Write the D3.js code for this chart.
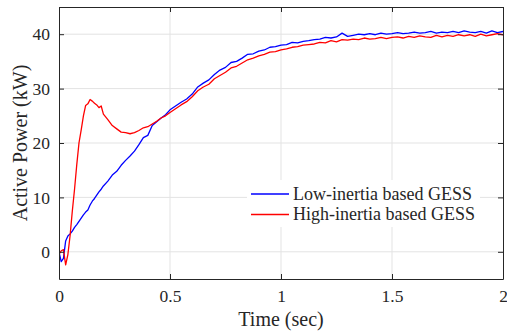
<!DOCTYPE html>
<html>
<head>
<meta charset="utf-8">
<script src="https://cdn.jsdelivr.net/npm/d3@7"></script>
<style>
  body { margin: 0; background: #fff; }
  text { font-family: "Liberation Serif", "Times New Roman", serif; fill: #262626; }
</style>
</head>
<body>
<div class="graphContainer"></div>
<script>
// time stamps (sec), finer during the first transient
var time = [0, 0.01, 0.02, 0.03, 0.04, 0.05, 0.06, 0.07, 0.08, 0.09, 0.10,
  0.11, 0.12, 0.13, 0.14, 0.15, 0.16, 0.17, 0.18, 0.19, 0.20,
  0.22, 0.24, 0.26, 0.28, 0.30, 0.32, 0.34, 0.36, 0.38, 0.40,
  0.42, 0.44, 0.46, 0.48, 0.50,
  0.525, 0.55, 0.575, 0.6, 0.625, 0.65, 0.675, 0.7, 0.725, 0.75,
  0.775, 0.8, 0.825, 0.85, 0.875, 0.9, 0.925, 0.95, 0.975, 1.0,
  1.025, 1.05, 1.075, 1.1, 1.125, 1.15, 1.175, 1.2, 1.225, 1.25,
  1.275, 1.3, 1.325, 1.35, 1.375, 1.4, 1.425, 1.45, 1.475, 1.5,
  1.525, 1.55, 1.575, 1.6, 1.625, 1.65, 1.675, 1.7, 1.725, 1.75,
  1.775, 1.8, 1.825, 1.85, 1.875, 1.9, 1.925, 1.95, 1.975, 2.0];

// active power (kW)
var lowInertia = [0, -1.8, -1.2, 2.0, 2.9, 3.3, 3.8, 4.5, 5.0, 5.6, 6.2,
  6.8, 7.3, 7.7, 8.6, 9.3, 9.8, 10.4, 11.0, 11.5, 12.1,
  13.0, 14.1, 14.8, 15.9, 16.8, 17.6, 18.5, 19.7, 21.0, 21.4,
  23.2, 23.9, 24.6, 25.2, 26.1,
  26.8, 27.5, 28.1, 29.0, 30.3, 31.0, 31.6, 32.6, 33.4, 33.9,
  34.8, 35.0, 35.6, 36.3, 36.4, 36.9, 37.1, 37.6, 37.7, 38.0,
  38.1, 38.5, 38.4, 38.7, 38.8, 39.0, 39.1, 39.4, 39.3, 39.5,
  40.2, 39.6, 39.8, 40.0, 39.9, 40.1, 39.9, 40.2, 40.0, 40.1,
  40.3, 40.1, 40.2, 40.4, 40.2, 40.3, 40.5, 40.2, 40.4, 40.3,
  40.5, 40.3, 40.6, 40.4, 40.3, 40.5, 40.2, 40.6, 40.3, 40.5];

var highInertia = [-0.5, 0.2, 0.4, -2.4, -0.5, 3.0, 7.5, 11.5, 16.0, 20.0, 22.4,
  25.0, 26.9, 27.2, 28.0, 27.7, 27.3, 27.0, 26.5, 26.8, 25.3,
  24.3, 23.2, 22.6, 22.0, 21.9, 21.7, 21.9, 22.3, 22.8, 23.0,
  23.5, 24.0, 24.6, 25.0, 25.6,
  26.3, 27.0, 27.6, 28.5, 29.6, 30.3, 30.8, 31.8, 32.4, 33.0,
  33.8, 34.1, 34.7, 35.3, 35.6, 36.0, 36.3, 36.7, 36.8, 37.1,
  37.3, 37.6, 37.7, 38.0, 38.1, 38.2, 38.5, 38.4, 38.8, 38.6,
  39.0, 38.9, 39.1, 39.0, 39.3, 39.1, 39.2, 39.4, 39.2, 39.4,
  39.5, 39.3, 39.6, 39.4, 39.7, 39.5, 39.4, 39.8, 39.5, 39.8,
  39.6, 39.9, 39.7, 39.9, 39.6, 40.0, 39.7, 39.9, 40.1, 39.9];

var xTicks = [0, 0.5, 1, 1.5, 2];
var yTicks = [0, 10, 20, 30, 40];
var seriesNames = ["Low-inertia based GESS", "High-inertia based GESS"];
var seriesColors = ["#0000ff", "#ff0000"];

var w = 507, h = 336;
var m = {left: 59, right: 4, top: 7, bottom: 57};
var iw = w - m.left - m.right,
    ih = h - m.top - m.bottom;

var x = d3.scaleLinear().domain([0, 2]).range([0, iw]);
var y = d3.scaleLinear().domain([-5, 45]).range([ih, 0]);

var svg = d3.select(".graphContainer")
  .append("svg")
  .attr("width", w)
  .attr("height", h);

var g = svg.append("g")
  .attr("transform", "translate(" + m.left + "," + m.top + ")");

// grid
g.append("g")
  .selectAll("line")
  .data(xTicks.slice(1, -1))
  .enter().append("line")
    .attr("x1", function (d) { return x(d); })
    .attr("x2", function (d) { return x(d); })
    .attr("y1", 0).attr("y2", ih)
    .attr("stroke", "#e3e3e3").attr("stroke-width", 1);

g.append("g")
  .selectAll("line")
  .data(yTicks)
  .enter().append("line")
    .attr("y1", function (d) { return y(d); })
    .attr("y2", function (d) { return y(d); })
    .attr("x1", 0).attr("x2", iw)
    .attr("stroke", "#e3e3e3").attr("stroke-width", 1);

// curves
var series = [lowInertia, highInertia];
var line = d3.line()
  .x(function (d, i) { return x(time[i]); })
  .y(function (d) { return y(d); });

g.append("defs").append("clipPath").attr("id", "clip")
  .append("rect").attr("width", iw).attr("height", ih);

g.append("g")
  .attr("clip-path", "url(#clip)")
  .selectAll("path")
  .data(series)
  .enter().append("path")
    .attr("d", line)
    .attr("fill", "none")
    .attr("stroke", function (d, i) { return seriesColors[i]; })
    .attr("stroke-width", 1.3)
    .attr("stroke-linejoin", "round");

// axes with inward ticks, box on all sides
var axisBottom = d3.axisBottom(x).tickValues(xTicks).tickSizeInner(-5).tickSizeOuter(0).tickPadding(11)
  .tickFormat(d3.format("~g"));
var axisLeft = d3.axisLeft(y).tickValues(yTicks).tickSizeInner(-5).tickSizeOuter(0).tickPadding(9);
var axisTop = d3.axisTop(x).tickValues(xTicks).tickSizeInner(-5).tickSizeOuter(0).tickFormat("");
var axisRight = d3.axisRight(y).tickValues(yTicks).tickSizeInner(-5).tickSizeOuter(0).tickFormat("");

var gx = g.append("g").attr("transform", "translate(0," + ih + ")").call(axisBottom);
var gy = g.append("g").call(axisLeft);
var gt = g.append("g").call(axisTop);
var gr = g.append("g").attr("transform", "translate(" + iw + ",0)").call(axisRight);

[gx, gy, gt, gr].forEach(function (a) {
  a.select(".domain").attr("stroke", "#262626").attr("stroke-width", 1);
  a.selectAll(".tick line").attr("stroke", "#262626");
  a.selectAll("text")
    .style("font-family", "'Liberation Serif', serif")
    .style("font-size", "17.5px")
    .attr("fill", "#262626");
});

// axis labels
svg.append("text")
  .attr("x", m.left + iw / 2)
  .attr("y", 326)
  .attr("text-anchor", "middle")
  .style("font-size", "20px")
  .text("Time (sec)");

svg.append("text")
  .attr("transform", "translate(27," + (m.top + ih / 2) + ") rotate(-90)")
  .attr("text-anchor", "middle")
  .style("font-size", "20px")
  .text("Active Power (kW)");

// legend
var legend = svg.append("g");
legend.append("rect")
  .attr("x", 247).attr("y", 180)
  .attr("width", 233).attr("height", 47)
  .attr("fill", "#fff");

var rows = legend.selectAll("g")
  .data(seriesNames)
  .enter().append("g")
    .attr("transform", function (d, i) { return "translate(0," + (194 + i * 20.5) + ")"; });

rows.append("line")
  .attr("x1", 251).attr("x2", 289)
  .attr("stroke", function (d, i) { return seriesColors[i]; })
  .attr("stroke-width", 1.3);

rows.append("text")
  .attr("x", 293)
  .attr("dy", "0.33em")
  .style("font-size", "18px")
  .text(function (d) { return d; });
</script>
</body>
</html>
